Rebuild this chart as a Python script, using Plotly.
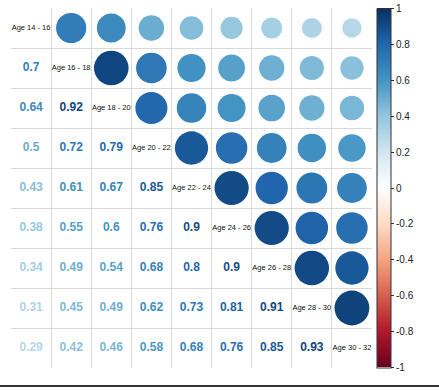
import numpy as np
import plotly.graph_objects as go
from plotly.colors import sample_colorscale

labels = ["Age 14 - 16", "Age 16 - 18", "Age 18 - 20", "Age 20 - 22", "Age 22 - 24",
          "Age 24 - 26", "Age 26 - 28", "Age 28 - 30", "Age 30 - 32"]

# lower-triangle correlations, row by row
lower_rows = [
    [],
    [0.7],
    [0.64, 0.92],
    [0.5, 0.72, 0.79],
    [0.43, 0.61, 0.67, 0.85],
    [0.38, 0.55, 0.6, 0.76, 0.9],
    [0.34, 0.49, 0.54, 0.68, 0.8, 0.9],
    [0.31, 0.45, 0.49, 0.62, 0.73, 0.81, 0.91],
    [0.29, 0.42, 0.46, 0.58, 0.68, 0.76, 0.85, 0.93],
]

cbar_ticks = [-1, -0.8, -0.6, -0.4, -0.2, 0, 0.2, 0.4, 0.6, 0.8, 1]
cbar_labels = ["-1", "-0.8", "-0.6", "-0.4", "-0.2", "0", "0.2", "0.4", "0.6", "0.8", "1"]

rdbu = ["#67001F", "#B2182B", "#D6604D", "#F4A582", "#FDDBC7", "#FFFFFF",
        "#D1E5F0", "#92C5DE", "#4393C3", "#2166AC", "#053061"]
colorscale = [[i / 10, c] for i, c in enumerate(rdbu)]

n = len(labels)
M = np.eye(n)
for i, row in enumerate(lower_rows):
    for j, v in enumerate(row):
        M[i, j] = v
        M[j, i] = v

W, H = 439, 391
ml, mr, mt, mb = 11, 67, 8, 23
plot_w = W - ml - mr
cell = plot_w / n

def col_of(v):
    return sample_colorscale(colorscale, [(v + 1) / 2])[0]

# circles (upper triangle)
cx, cy, cv, cs = [], [], [], []
for i in range(n):
    for j in range(i + 1, n):
        cx.append(j + 1)
        cy.append(i + 1)
        cv.append(M[i, j])
        cs.append(0.9 * np.sqrt(abs(M[i, j])) * cell)

# numbers (lower triangle)
tx, ty, tt, tc = [], [], [], []
for i in range(n):
    for j in range(i):
        tx.append(j + 1)
        ty.append(i + 1)
        tt.append(f"{M[i, j]:g}")
        tc.append(col_of(M[i, j]))

fig = go.Figure()
fig.add_trace(go.Scatter(
    x=cx, y=cy, mode="markers", hoverinfo="skip",
    marker=dict(size=cs, sizemode="diameter", color=cv, colorscale=colorscale,
                cmin=-1, cmax=1, line=dict(width=0), opacity=1,
                colorbar=dict(
                    x=(377 - ml) / plot_w, xanchor="left", xref="paper",
                    y=0.5, yanchor="middle", len=359, lenmode="pixels",
                    thickness=14, thicknessmode="pixels",
                    outlinewidth=1, outlinecolor="#333",
                    tickvals=cbar_ticks, ticktext=cbar_labels,
                    ticks="outside", ticklen=3, tickcolor="#333",
                    tickfont=dict(family="Liberation Sans, Arial", size=10, color="#222"),
                    xpad=0, ypad=0,
                )),
    showlegend=False,
))
fig.add_trace(go.Scatter(
    x=tx, y=ty, mode="text", text=tt, hoverinfo="skip",
    textfont=dict(family="Liberation Sans, Arial", size=12, color=tc, weight="bold"),
    showlegend=False,
))
fig.add_trace(go.Scatter(
    x=list(range(1, n + 1)), y=list(range(1, n + 1)), mode="text", text=labels,
    hoverinfo="skip",
    textfont=dict(family="Liberation Sans, Arial", size=7.5, color="#111"),
    showlegend=False,
))

grid_vals = [k + 0.5 for k in range(n + 1)]
fig.update_xaxes(range=[0.5, n + 0.5], tickvals=grid_vals, showticklabels=False,
                 showgrid=True, gridcolor="#D9D9D9", gridwidth=1, zeroline=False, ticks="")
fig.update_yaxes(range=[n + 0.5, 0.5], tickvals=grid_vals, showticklabels=False,
                 showgrid=True, gridcolor="#D9D9D9", gridwidth=1, zeroline=False, ticks="")

fig.add_shape(type="line", xref="paper", yref="paper",
              x0=-ml / plot_w, x1=(W - ml) / plot_w,
              y0=-(386 - (H - mb)) / (H - mt - mb), y1=-(386 - (H - mb)) / (H - mt - mb),
              line=dict(color="#333", width=2))

fig.update_layout(width=W, height=H, margin=dict(l=ml, r=mr, t=mt, b=mb),
                  plot_bgcolor="white", paper_bgcolor="white")
fig.write_html("out.html")
